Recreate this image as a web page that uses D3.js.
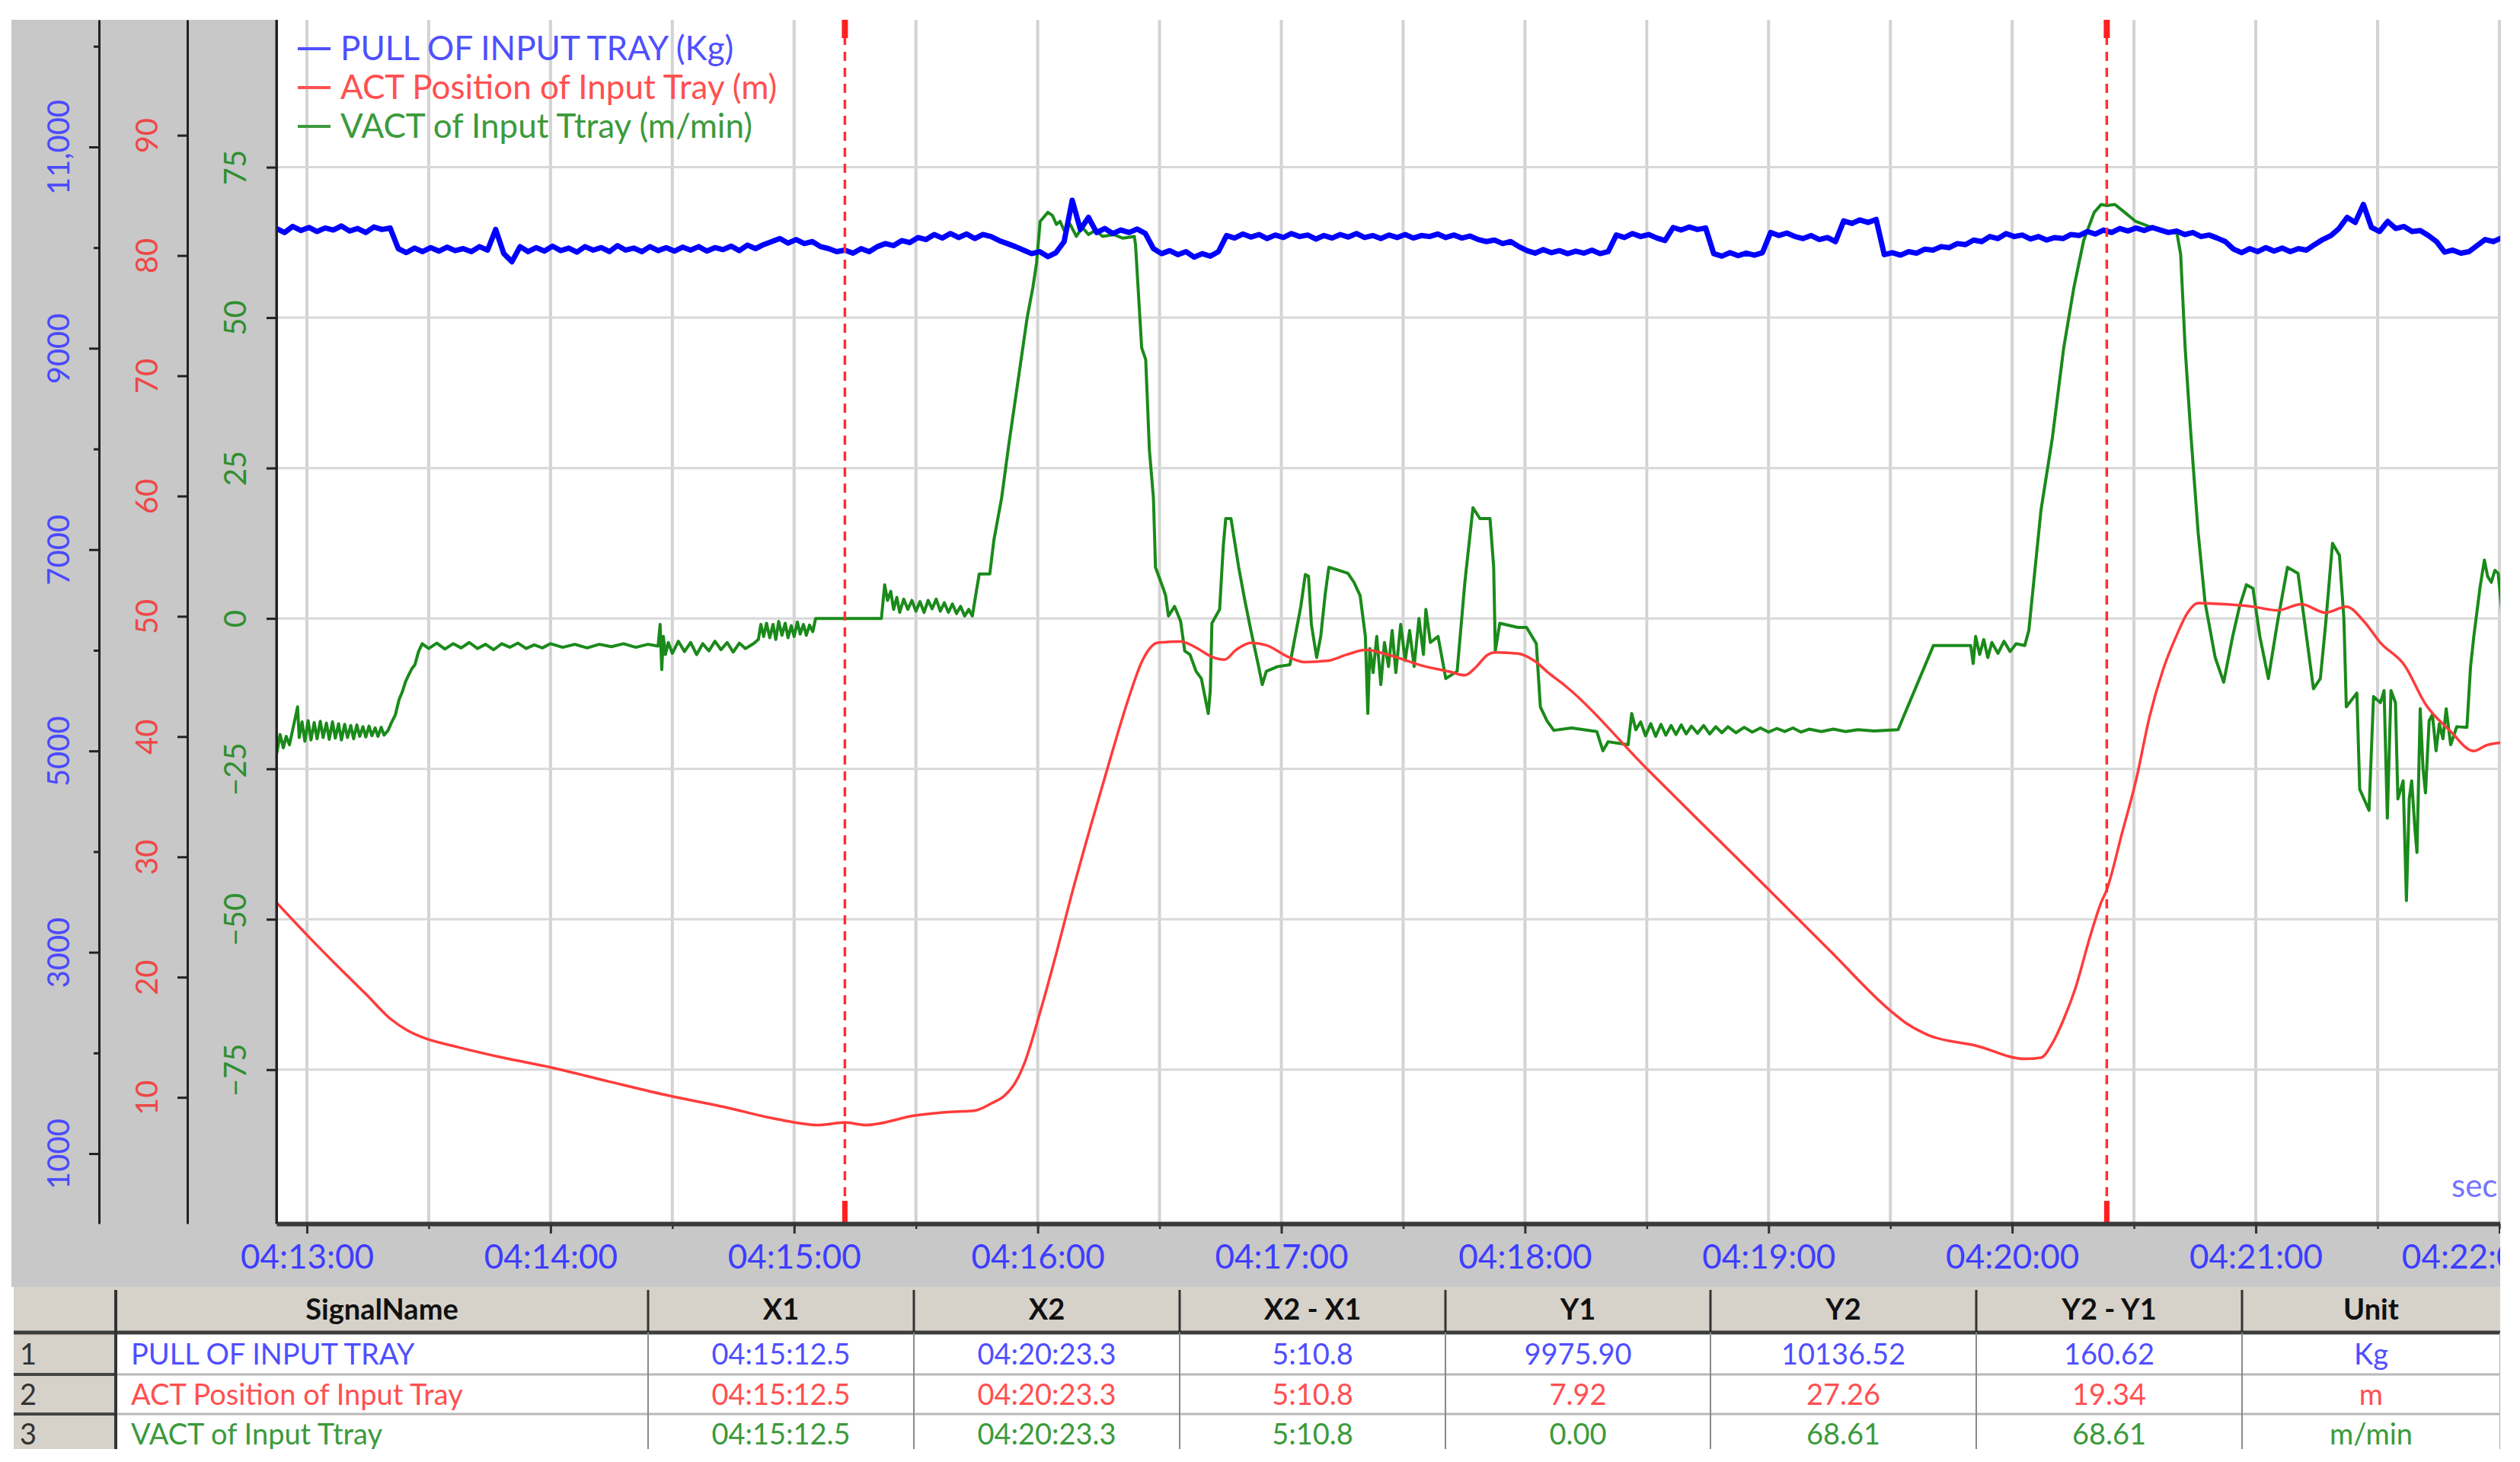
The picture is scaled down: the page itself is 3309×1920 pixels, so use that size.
<!DOCTYPE html>
<html>
<head>
<meta charset="utf-8">
<script src="https://cdn.jsdelivr.net/npm/d3@7"></script>
<style>
  body { margin: 0; background: #fff; }
  svg text { font-family: Lato, "Open Sans", sans-serif; }
</style>
</head>
<body>
<div id="chart"></div>
<script>
// times are seconds after 04:13:00

// PULL OF INPUT TRAY (Kg), one reading every 2 s from -7.5 s
const pullStart = -7.5, pullStep = 2;
const pullValues = [
  10190, 10150, 10210, 10170, 10200, 10160, 10195, 10175, 10215, 10165,
  10190, 10150, 10205, 10180, 10195, 9990, 9950, 9995, 9960, 10000,
  9965, 10005, 9970, 9990, 9960, 10010, 9975, 10180, 9940, 9860,
  10010, 9960, 10000, 9965, 10015, 9970, 9995, 9955, 10010, 9975,
  10000, 9960, 10020, 9975, 9995, 9960, 10010, 9970, 10000, 9965,
  10005, 9975, 10010, 9965, 10000, 9980, 10015, 9970, 10025, 9990,
  10030, 10060, 10090, 10045, 10080, 10040, 10060, 10010, 9990, 9960,
  9975, 9945, 9990, 9960, 10010, 10040, 10020, 10070, 10050, 10100,
  10080, 10130, 10095, 10140, 10100, 10135, 10090, 10130, 10110, 10070,
  10040, 10010, 9975, 9940, 9960, 9910, 9950, 10060, 10470, 10180,
  10300, 10150, 10190, 10140, 10175, 10150, 10185, 10140, 9990, 9940,
  9970, 9930, 9960, 9905, 9940, 9915, 9960, 10120, 10095, 10135,
  10105, 10130, 10090, 10125, 10100, 10140, 10110, 10125, 10085, 10120,
  10095, 10130, 10105, 10140, 10100, 10120, 10090, 10125, 10100, 10130,
  10095, 10120, 10110, 10135, 10100, 10125, 10095, 10115, 10080, 10060,
  10075, 10040, 10060, 10010, 9970, 9945, 9980, 9950, 9970, 9940,
  9965, 9945, 9975, 9940, 9960, 10125, 10100, 10140, 10110, 10130,
  10095, 10070, 10200, 10175, 10205, 10180, 10195, 9940, 9915, 9950,
  9920, 9945, 9925, 9950, 10150, 10120, 10145, 10110, 10090, 10120,
  10080, 10100, 10060, 10265, 10240, 10275, 10250, 10280, 9930, 9950,
  9925, 9960, 9945, 9985, 9975, 10010, 10000, 10040, 10030, 10075,
  10060, 10110, 10090, 10140, 10110, 10125, 10085, 10110, 10075, 10100,
  10090, 10130, 10120, 10160, 10135, 10175, 10150, 10190, 10165, 10195,
  10170, 10200, 10175, 10150, 10165, 10130, 10150, 10110, 10125, 10095,
  10060, 9985, 9950, 9990, 9960, 10000, 9965, 9995, 9960, 9990,
  9975, 10030, 10080, 10120, 10190, 10300, 10250, 10430, 10200, 10160,
  10260, 10190, 10210, 10160, 10170, 10120, 10060, 9955, 9975, 9945,
  9960, 10020, 10080, 10060, 10095
];

// ACT Position of Input Tray (m): [seconds, value]
const positionSeries = [
  [-7.5, 26.2], [0.6, 23.3], [7.3, 21.0], [14.5, 18.6], [20.7, 16.5], [24.6, 15.6],
  [28.4, 15.0], [37.0, 14.2], [48.3, 13.3], [60.0, 12.5], [74.6, 11.3], [89.7, 10.1],
  [102.8, 9.2], [115.6, 8.2], [126.1, 7.7], [132.5, 7.92], [137.6, 7.7], [150.0, 8.5],
  [159.2, 8.8], [164.5, 8.9], [168.6, 9.5], [172.0, 10.2], [174.6, 11.3], [176.9, 13.0],
  [180.6, 17.1], [184.6, 22.0], [188.3, 26.8], [193.0, 32.5], [197.9, 38.2], [202.4, 43.2],
  [205.6, 46.2], [207.5, 47.3], [209.4, 47.8], [215.2, 47.9], [219.0, 47.4], [223.1, 46.6],
  [226.0, 46.4], [228.8, 47.2], [232.5, 47.8], [236.3, 47.6], [241.9, 46.6], [245.7, 46.2],
  [251.3, 46.3], [256.0, 46.8], [260.7, 47.2], [266.4, 46.8], [274.6, 45.9], [281.4, 45.4],
  [285.2, 45.1], [288.0, 45.8], [290.8, 46.8], [292.7, 47.0], [298.3, 46.9], [302.3, 46.3],
  [305.8, 45.3], [310.0, 44.2], [330.1, 37.3], [345.3, 32.2], [360.0, 27.3], [375.4, 22.1],
  [389.7, 17.3], [394.2, 16.1], [399.2, 15.2], [411.1, 14.3], [423.1, 13.2], [427.1, 13.3],
  [429.9, 14.5], [432.7, 16.5], [435.5, 19.0], [439.3, 23.5], [441.9, 26.2], [443.3, 27.26],
  [447.0, 31.9], [450.6, 36.5], [453.8, 41.6], [457.1, 45.5], [460.6, 48.5], [463.2, 50.3],
  [465.8, 51.1], [472.6, 51.0], [479.3, 50.8], [485.3, 50.5], [491.2, 51.0], [497.2, 50.3],
  [502.3, 50.8], [506.6, 49.6], [510.7, 47.8], [516.7, 45.9], [521.8, 42.7], [527.8, 40.5],
  [533.7, 38.8], [537.0, 39.3], [541.0, 39.5]
];

// VACT of Input Ttray (m/min): [seconds, value]
const speedSeries = [
  [-7.5, -22.7], [-6.6, -19.3], [-5.8, -21.5], [-5.1, -19.6], [-4.3, -21.0], [-3.5, -18.5],
  [-2.7, -16.0], [-2.3, -14.7], [-1.9, -19.8], [-1.2, -17.2], [-0.5, -20.4], [0.3, -17.0],
  [1.0, -20.2], [1.8, -17.3], [2.5, -20.0], [3.3, -17.1], [4.0, -19.8], [4.8, -17.4],
  [5.5, -20.1], [6.3, -17.2], [7.0, -19.9], [7.8, -17.5], [8.5, -20.2], [9.3, -17.6],
  [10.0, -19.8], [10.8, -17.8], [11.5, -20.0], [12.3, -17.7], [13.0, -19.6], [13.8, -18.0],
  [14.5, -19.7], [15.3, -17.9], [16.0, -19.5], [16.8, -18.2], [17.5, -19.6], [18.3, -18.1],
  [19.0, -19.4], [20.0, -18.6], [20.7, -17.5], [21.8, -16.0], [22.7, -13.5], [23.5, -12.2],
  [24.3, -10.5], [25.0, -9.5], [25.8, -8.4], [26.6, -7.7], [27.5, -5.5], [28.4, -4.2],
  [30, -5.0], [32, -4.1], [34, -5.1], [36, -4.2], [38, -4.9], [40, -4.0], [42, -5.0],
  [44, -4.3], [46, -5.2], [48, -4.2], [50, -4.8], [52, -4.1], [54, -5.0], [56, -4.4],
  [58, -4.9], [60, -4.2], [63, -4.8], [66, -4.3], [69, -4.9], [72, -4.3], [75, -4.7],
  [78, -4.2], [81, -4.8], [84, -4.3], [86.5, -4.6], [87.0, -1.0], [87.4, -8.5], [87.8, -3.0],
  [88.3, -6.0], [89, -4.0], [90, -5.8], [91.5, -3.8], [93, -5.5], [94.5, -4.0], [96, -6.0],
  [97.5, -4.2], [99, -5.4], [100.5, -3.8], [102, -5.2], [103.5, -4.0], [105, -5.6],
  [106.5, -4.1], [108, -5.0], [110, -4.2], [111.2, -3.5], [111.8, -1.0], [112.5, -3.0],
  [113.2, -0.8], [114, -3.2], [114.8, -1.0], [115.5, -3.5], [116.2, -0.5], [117, -2.8],
  [117.8, -0.8], [118.5, -3.2], [119.3, -1.2], [120, -3.0], [120.8, -0.6], [121.5, -2.6],
  [122.3, -1.0], [123, -2.8], [123.8, -1.1], [124.6, -2.2], [125.3, 0], [141.5, 0],
  [142.3, 5.6], [143.0, 3.0], [143.8, 4.5], [144.5, 1.5], [145.3, 3.5], [146, 1.0],
  [147, 3.2], [148, 1.5], [149, 3.0], [150, 1.2], [151, 2.8], [152, 1.0], [153, 3.0],
  [154, 1.6], [155, 3.2], [156, 1.2], [157, 2.6], [158, 1.0], [159, 2.4], [160, 0.8],
  [161, 2.0], [162, 0.4], [163, 1.5], [163.9, 0.4], [165.0, 5.0], [165.6, 7.4], [168.2, 7.4],
  [169.2, 13], [171.1, 20], [172.9, 29], [174.4, 36], [175.9, 43], [177.4, 50], [178.8, 55],
  [179.7, 59], [180.6, 66], [182.5, 67.5], [183.6, 67], [184.6, 65.5], [185.5, 66],
  [186.5, 64.5], [188, 65.5], [189.5, 63.5], [191, 65], [192.5, 63.8], [194.2, 64.5],
  [196, 63.5], [198.7, 63.8], [201, 63.2], [203.8, 63.5], [204.1, 62], [205.6, 45],
  [206.6, 43], [207.5, 28], [208.5, 20], [209.0, 8.5], [210.9, 5], [211.5, 3.8], [212.2, 0.4],
  [213.7, 2], [215.2, -0.5], [216.2, -5.4], [217.5, -6], [219.0, -8.8], [220.3, -10],
  [222.0, -15.8], [222.5, -12], [222.9, -0.8], [224.8, 1.5], [225.7, 12], [226.3, 16.6],
  [227.6, 16.6], [229.5, 8.5], [231.0, 3], [232.5, -2], [234.4, -8], [235.3, -11],
  [236.3, -8.8], [239.1, -8], [242.1, -7.7], [243.4, -3], [244.8, 2], [245.9, 7.3],
  [246.7, 7], [247.4, -1], [248.7, -6.5], [249.7, -3], [250.8, 4], [251.7, 8.5], [254.1, 8],
  [256.4, 7.5], [257.9, 6], [259.4, 3.8], [260.7, -3], [261.3, -15.8], [261.8, -5],
  [262.6, -9], [263.5, -3], [264.5, -11], [265.4, -4], [266.4, -8], [267.3, -2], [268.2, -9],
  [269.4, -1], [270.5, -7], [271.6, -2], [272.7, -8], [273.9, 0], [275.0, -6], [275.6, 1.5],
  [276.7, -4], [278.6, -3], [280.5, -10], [283.3, -8.8], [285.2, 6], [287.2, 18.4],
  [288.9, 16.6], [291.4, 16.6], [292.3, 8.5], [292.7, -5.4], [293.8, -0.8], [298.3, -1.5],
  [300.4, -1.5], [302.8, -4.2], [303.8, -14.7], [305.4, -17], [307.1, -18.6], [311.5, -18.2],
  [317.7, -18.8], [319.2, -22], [320.5, -20.5], [325.4, -21], [326.3, -15.8], [327.3, -18.5],
  [328.5, -17.2], [329.7, -19.5], [331, -17.5], [332.2, -19.6], [333.5, -17.6], [334.7, -19.4],
  [336, -17.8], [337.2, -19.3], [338.5, -17.7], [339.7, -19.2], [341, -17.9], [342.5, -19.1],
  [344, -17.8], [345.5, -19.2], [347, -18.0], [348.5, -19.0], [350, -18.0], [352, -19.0],
  [354, -18.1], [356, -18.9], [358, -18.2], [360, -18.9], [362, -18.3], [364, -18.8],
  [366, -18.2], [368, -18.9], [370, -18.4], [373, -18.8], [376, -18.4], [379, -18.8],
  [382, -18.5], [386, -18.7], [391.9, -18.5], [400.6, -4.5], [409.8, -4.5], [410.4, -7.5],
  [411, -3.0], [412, -6.0], [413, -3.5], [414, -6.5], [415, -4.0], [416.5, -5.8], [418, -3.8],
  [419.5, -5.5], [421, -4.2], [423.1, -4.5], [424.1, -2], [425.6, 8], [427.1, 18],
  [429.9, 30], [432.7, 45], [435.2, 55], [437.6, 62.8], [440.2, 67.5], [441.9, 68.8],
  [443.3, 68.61], [445.3, 68.8], [447.7, 67.5], [450.4, 66], [454.3, 65], [457, 64.5],
  [460.6, 64], [461.5, 60.5], [462.6, 45], [463.9, 31.6], [465.8, 14.3], [467.5, 2.7],
  [470.0, -6.5], [472.1, -10.6], [474.3, -3], [476.0, 2], [477.7, 5.6], [479.3, 5],
  [481.0, -3], [483.1, -10], [485.3, -0.8], [487.8, 8.5], [490.4, 7.5], [492.1, -1],
  [494.2, -11.7], [495.9, -10], [497.2, -1], [498.9, 12.5], [500.6, 10.5], [501.7, 0],
  [502.3, -14.7], [504.9, -12.4], [505.6, -28.4], [507.9, -31.9], [509.0, -13], [510.7, -14],
  [511.6, -12], [512.4, -33.2], [513.3, -12], [514.4, -14], [515.0, -30], [516.3, -27],
  [517.1, -46.9], [517.8, -30], [518.4, -27], [519.2, -35], [519.7, -38.9], [520.5, -15],
  [521.2, -25], [521.8, -29], [522.7, -17], [523.5, -16], [524.4, -22], [525.2, -17.5],
  [526.1, -20], [526.9, -15], [528.0, -21], [529.5, -18], [532.0, -18.1], [532.9, -8],
  [533.7, -3], [535.2, 5], [536.3, 9.7], [537.1, 7], [538.0, 6], [538.9, 8], [539.7, 7.5],
  [540.5, 2], [541.0, -3]
];

const cursorTimes = [132.5, 443.3];

const pullTicks = [1000, 2000, 3000, 4000, 5000, 6000, 7000, 8000, 9000, 10000, 11000, 12000];
const pullLabelValues = [1000, 3000, 5000, 7000, 9000, 11000];
const pullLabels = ["1000", "3000", "5000", "7000", "9000", "11,000"];
const positionTicks = [10, 20, 30, 40, 50, 60, 70, 80, 90];
const speedTicks = [-75, -50, -25, 0, 25, 50, 75];

const legendLabels = ["PULL OF INPUT TRAY (Kg)", "ACT Position of Input Tray (m)", "VACT of Input Ttray (m/min)"];

const tableHeaders = ["SignalName", "X1", "X2", "X2 - X1", "Y1", "Y2", "Y2 - Y1", "Unit"];
const signalNames = ["PULL OF INPUT TRAY", "ACT Position of Input Tray", "VACT of Input Ttray"];
const x1Col = ["04:15:12.5", "04:15:12.5", "04:15:12.5"];
const x2Col = ["04:20:23.3", "04:20:23.3", "04:20:23.3"];
const dxCol = ["5:10.8", "5:10.8", "5:10.8"];
const y1Col = ["9975.90", "7.92", "0.00"];
const y2Col = ["10136.52", "27.26", "68.61"];
const dyCol = ["160.62", "19.34", "68.61"];
const unitCol = ["Kg", "m", "m/min"];

const lineColors = ["#0000ff", "#ff3b3b", "#1a8a1a"];
const textColors = ["#4f4fff", "#ff5050", "#3c9a3c"];

// layout
const W = 3309, H = 1920;
const plot = { left: 363, right: 3283, top: 26, bottom: 1607 };
const panel = { left: 15, top: 26, bottom: 1690 };

const base = new Date(2021, 0, 1, 4, 13, 0);
const toDate = t => new Date(base.getTime() + t * 1000);

const x = d3.scaleTime()
    .domain([toDate(-7.5), toDate(540.2)])
    .range([plot.left, plot.right]);
const yPull = d3.scaleLinear().domain([304, 12263]).range([plot.bottom, plot.top]);
const yPos = d3.scaleLinear().domain([-0.5, 99.6]).range([plot.bottom, plot.top]);
const ySpeed = d3.scaleLinear().domain([-100.6, 99.5]).range([plot.bottom, plot.top]);

const svg = d3.select("#chart")
    .append("svg")
    .attr("width", W)
    .attr("height", H);

svg.append("rect").attr("width", W).attr("height", H).attr("fill", "#fff");

// gray frame behind axes
svg.append("rect")
    .attr("x", panel.left).attr("y", panel.top)
    .attr("width", plot.right - panel.left).attr("height", panel.bottom - panel.top)
    .attr("fill", "#c8c8c8");

svg.append("rect")
    .attr("x", plot.left).attr("y", plot.top)
    .attr("width", plot.right - plot.left).attr("height", plot.bottom - plot.top)
    .attr("fill", "#fff");

const defs = svg.append("defs");
defs.append("clipPath").attr("id", "plot-clip")
    .append("rect")
    .attr("x", plot.left).attr("y", plot.top)
    .attr("width", plot.right - plot.left).attr("height", plot.bottom - plot.top);
// used inside the x axis group, which is already shifted down to plot.bottom
defs.append("clipPath").attr("id", "xlab-clip")
    .append("rect")
    .attr("x", 0).attr("y", -10)
    .attr("width", plot.right).attr("height", panel.bottom - plot.bottom + 10);

// grid
const grid = svg.append("g");
grid.selectAll(".vgrid")
    .data(x.ticks(d3.timeSecond.every(30)))
    .enter()
    .append("line")
    .attr("x1", d => x(d)).attr("x2", d => x(d))
    .attr("y1", plot.top).attr("y2", plot.bottom)
    .attr("stroke", "#d3d3d3")
    .attr("stroke-width", 4);
grid.selectAll(".hgrid")
    .data(speedTicks)
    .enter()
    .append("line")
    .attr("x1", plot.left).attr("x2", plot.right)
    .attr("y1", d => ySpeed(d)).attr("y2", d => ySpeed(d))
    .attr("stroke", "#d8d8d8")
    .attr("stroke-width", 3);

// legend
const legend = svg.append("g");
legendLabels.forEach((label, i) => {
    const cy = 64 + i * 51;
    legend.append("line")
        .attr("x1", 391).attr("x2", 434)
        .attr("y1", cy).attr("y2", cy)
        .attr("stroke", textColors[i])
        .attr("stroke-width", 4);
    legend.append("text")
        .attr("x", 447).attr("y", cy + 15)
        .attr("fill", textColors[i])
        .style("font-size", "44px")
        .text(label);
});

// series
const lines = svg.append("g").attr("clip-path", "url(#plot-clip)");
const pullSeries = pullValues.map((v, i) => [pullStart + i * pullStep, v]);

lines.append("path")
    .datum(speedSeries)
    .attr("fill", "none")
    .attr("stroke", lineColors[2])
    .attr("stroke-width", 4)
    .attr("stroke-linejoin", "round")
    .attr("d", d3.line().x(d => x(toDate(d[0]))).y(d => ySpeed(d[1])));

lines.append("path")
    .datum(positionSeries)
    .attr("fill", "none")
    .attr("stroke", lineColors[1])
    .attr("stroke-width", 3.5)
    .attr("d", d3.line().curve(d3.curveMonotoneX).x(d => x(toDate(d[0]))).y(d => yPos(d[1])));

lines.append("path")
    .datum(pullSeries)
    .attr("fill", "none")
    .attr("stroke", lineColors[0])
    .attr("stroke-width", 7)
    .attr("stroke-linejoin", "round")
    .attr("d", d3.line().x(d => x(toDate(d[0]))).y(d => yPull(d[1])));

// cursors
const cursors = svg.append("g");
cursorTimes.forEach(t => {
    const cx = x(toDate(t));
    cursors.append("line")
        .attr("x1", cx).attr("x2", cx)
        .attr("y1", plot.top).attr("y2", plot.bottom)
        .attr("stroke", "#ff3030")
        .attr("stroke-width", 3.5)
        .attr("stroke-dasharray", "12,9");
    cursors.append("rect")
        .attr("x", cx - 4).attr("y", plot.top)
        .attr("width", 8).attr("height", 24)
        .attr("fill", "#ff2020");
    cursors.append("rect")
        .attr("x", cx - 3.5).attr("y", plot.bottom - 30)
        .attr("width", 7).attr("height", 30)
        .attr("fill", "#ff2020");
});

svg.append("text")
    .attr("clip-path", "url(#plot-clip)")
    .attr("x", 3219).attr("y", 1572)
    .attr("fill", "#7474ff")
    .style("font-size", "42px")
    .text("sec");

// y axes, rotated labels
function styleAxis(g, color, labelOffset) {
    g.select(".domain").attr("stroke", "#222").attr("stroke-width", 3);
    g.selectAll(".tick line").attr("stroke", "#222").attr("stroke-width", 3);
    g.selectAll(".tick text")
        .attr("transform", "rotate(-90)")
        .attr("x", 0)
        .attr("y", labelOffset)
        .attr("dy", "0.35em")
        .attr("text-anchor", "middle")
        .attr("fill", color)
        .style("font-size", "40px");
}

const pullAxis = svg.append("g")
    .attr("transform", "translate(130,0)")
    .call(d3.axisLeft(yPull)
        .tickValues(pullTicks)
        .tickSize(13)
        .tickSizeOuter(0)
        .tickFormat(d => {
            const k = pullLabelValues.indexOf(d);
            return k < 0 ? "" : pullLabels[k];
        }));
styleAxis(pullAxis, "#4a4aff", -53);
pullAxis.selectAll(".tick line")
    .filter(d => pullLabelValues.indexOf(d) < 0)
    .attr("x2", -7);

const posAxis = svg.append("g")
    .attr("transform", "translate(246,0)")
    .call(d3.axisLeft(yPos).tickValues(positionTicks).tickSize(13).tickSizeOuter(0));
styleAxis(posAxis, "#ee4848", -53);

const speedAxis = svg.append("g")
    .attr("transform", `translate(${plot.left},0)`)
    .call(d3.axisLeft(ySpeed).tickValues(speedTicks).tickSize(13).tickSizeOuter(0));
styleAxis(speedAxis, "#2f8f2f", -54);

// x axis
const xMinor = svg.append("g")
    .attr("transform", `translate(0,${plot.bottom})`)
    .call(d3.axisBottom(x).ticks(d3.timeSecond.every(30)).tickSize(7).tickSizeOuter(0).tickFormat(""));
xMinor.select(".domain").remove();
xMinor.selectAll(".tick line").attr("stroke", "#333").attr("stroke-width", 2.5);

const xAxis = svg.append("g")
    .attr("transform", `translate(0,${plot.bottom})`)
    .attr("clip-path", "url(#xlab-clip)")
    .call(d3.axisBottom(x)
        .ticks(d3.timeMinute.every(1))
        .tickSize(13)
        .tickSizeOuter(0)
        .tickPadding(15)
        .tickFormat(d3.timeFormat("%H:%M:%S")));
xAxis.select(".domain").attr("stroke", "#3a3a3a").attr("stroke-width", 6);
xAxis.selectAll(".tick line").attr("stroke", "#333").attr("stroke-width", 3);
xAxis.selectAll(".tick text")
    .attr("fill", "#3d3dff")
    .style("font-size", "44px");
// the label at the right edge is pulled in a little, as the recorder does
xAxis.selectAll(".tick text")
    .filter(d => x(d) > plot.right - 20)
    .attr("dx", -41);

// plot left border
svg.append("line")
    .attr("x1", plot.left).attr("x2", plot.left)
    .attr("y1", plot.top).attr("y2", plot.bottom)
    .attr("stroke", "#222").attr("stroke-width", 3);

// cursor table
const colEdges = [18, 152, 851, 1200, 1549, 1898, 2246, 2595, 2944, 3283];
const rowEdges = [1690, 1750, 1805, 1857, 1905];
const rowBaselines = [1792, 1845, 1897];
const tableCols = [signalNames, x1Col, x2Col, dxCol, y1Col, y2Col, dyCol, unitCol];

defs.append("clipPath").attr("id", "table-clip")
    .append("rect")
    .attr("x", colEdges[0]).attr("y", rowEdges[0])
    .attr("width", colEdges[9] - colEdges[0]).attr("height", rowEdges[4] - rowEdges[0] - 2);

const table = svg.append("g").attr("clip-path", "url(#table-clip)");

table.append("rect")
    .attr("x", colEdges[0]).attr("y", rowEdges[0])
    .attr("width", colEdges[9] - colEdges[0]).attr("height", rowEdges[4] - rowEdges[0])
    .attr("fill", "#fff");
table.append("rect")
    .attr("x", colEdges[0]).attr("y", rowEdges[0])
    .attr("width", colEdges[9] - colEdges[0]).attr("height", rowEdges[1] - rowEdges[0])
    .attr("fill", "#d6d2ca");
table.append("rect")
    .attr("x", colEdges[0]).attr("y", rowEdges[0])
    .attr("width", colEdges[1] - colEdges[0]).attr("height", rowEdges[4] - rowEdges[0])
    .attr("fill", "#d6d2ca");

// row separators
[rowEdges[2], rowEdges[3]].forEach(y => {
    table.append("line")
        .attr("x1", colEdges[1]).attr("x2", colEdges[9])
        .attr("y1", y).attr("y2", y)
        .attr("stroke", "#b8b8b8").attr("stroke-width", 3);
    table.append("line")
        .attr("x1", colEdges[0]).attr("x2", colEdges[1])
        .attr("y1", y).attr("y2", y)
        .attr("stroke", "#444").attr("stroke-width", 4);
});
table.append("line")
    .attr("x1", colEdges[0]).attr("x2", colEdges[9])
    .attr("y1", rowEdges[1]).attr("y2", rowEdges[1])
    .attr("stroke", "#3c3c3c").attr("stroke-width", 5);

// column separators
colEdges.slice(1, 9).forEach((cx, i) => {
    table.append("line")
        .attr("x1", cx).attr("x2", cx)
        .attr("y1", rowEdges[0] + 4).attr("y2", rowEdges[1])
        .attr("stroke", "#333").attr("stroke-width", i === 0 ? 4 : 3);
    table.append("line")
        .attr("x1", cx).attr("x2", cx)
        .attr("y1", rowEdges[1]).attr("y2", rowEdges[4])
        .attr("stroke", i === 0 ? "#333" : "#8a8a8a").attr("stroke-width", i === 0 ? 4 : 2);
});
table.append("line")
    .attr("x1", colEdges[9]).attr("x2", colEdges[9])
    .attr("y1", rowEdges[1]).attr("y2", rowEdges[4])
    .attr("stroke", "#aaa").attr("stroke-width", 2);

// header text
tableHeaders.forEach((h, i) => {
    table.append("text")
        .attr("x", (colEdges[i + 1] + colEdges[i + 2]) / 2)
        .attr("y", 1733)
        .attr("text-anchor", "middle")
        .attr("fill", "#111")
        .style("font-size", "38px")
        .style("font-weight", "bold")
        .text(h);
});

// row numbers and cells
rowBaselines.forEach((by, r) => {
    table.append("text")
        .attr("x", 26).attr("y", by)
        .attr("fill", "#333")
        .style("font-size", "38px")
        .text(r + 1);
    tableCols.forEach((col, c) => {
        const first = c === 0;
        table.append("text")
            .attr("x", first ? colEdges[1] + 20 : (colEdges[c + 1] + colEdges[c + 2]) / 2)
            .attr("y", by)
            .attr("text-anchor", first ? "start" : "middle")
            .attr("fill", textColors[r])
            .style("font-size", "38px")
            .text(col[r]);
    });
});
</script>
</body>
</html>
